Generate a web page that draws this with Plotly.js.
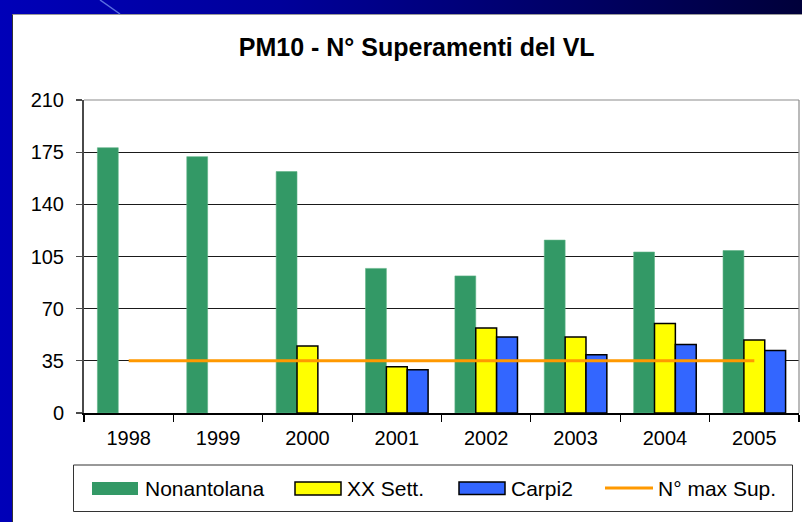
<!DOCTYPE html>
<html>
<head>
<meta charset="utf-8">
<script src="https://cdn.plot.ly/plotly-3.0.1.min.js"></script>
<style>
  html, body { margin: 0; padding: 0; }
  #wrap { position: relative; width: 802px; height: 522px; overflow: hidden;
          background: linear-gradient(to right, #0000b8 0%, #00009a 35%, #000060 75%, #00003a 100%); }
  #panel { position: absolute; left: 12px; top: 14px; width: 790px; height: 508px;
           background: #ffffff; border-left: 1px solid #333; border-top: 1px solid #999; box-sizing: border-box; }
  #chart { position: absolute; left: 0; top: 0; width: 802px; height: 522px; }
</style>
</head>
<body>
<div id="wrap">
  <div id="panel"></div>
  <div id="chart"></div>
</div>
<script>
// ---- data ----
const years = ['1998', '1999', '2000', '2001', '2002', '2003', '2004', '2005'];
const nonantolana = [178, 172, 162, 97, 92, 116, 108, 109];
const xxSett = [null, null, 45, 31, 57, 51, 60, 49];
const carpi2 = [null, null, null, 29, 51, 39, 46, 42];
const maxSup = [35, 35, 35, 35, 35, 35, 35, 35];
const seriesNames = ['Nonantolana', 'XX Sett.', 'Carpi2', 'N° max Sup.'];
const chartTitle = 'PM10 - N° Superamenti del VL';

// ---- layout geometry (pixels) ----
const W = 802, H = 522;
const L = 84, R = 3, T = 100, B = 109;
const PW = W - L - R, PH = H - T - B;
const px = v => (v - L) / PW;
const py = v => (T + PH - v) / PH;

const FONT = 'Liberation Sans, Arial, Helvetica, sans-serif';
const green = '#339966', yellow = '#ffff00', blue = '#3366ff', orange = '#ff9900';

const traces = [
  { type: 'bar', name: seriesNames[0], x: years, y: nonantolana,
    marker: { color: green, line: { color: '#5fb386', width: 0.6 } }, showlegend: false },
  { type: 'bar', name: seriesNames[1], x: years, y: xxSett,
    marker: { color: yellow, line: { color: '#000', width: 1.5 } }, showlegend: false },
  { type: 'bar', name: seriesNames[2], x: years, y: carpi2,
    marker: { color: blue, line: { color: '#000', width: 1.5 } }, showlegend: false },
  { type: 'scatter', mode: 'lines', name: seriesNames[3], x: years, y: maxSup,
    line: { color: orange, width: 3 }, showlegend: false }
];

// legend drawn with shapes + annotations
const legY = 488;
const shapes = [
  // plot area top/right border
  { type: 'line', xref: 'paper', yref: 'paper', x0: 0, x1: 1, y0: 1, y1: 1, line: { color: '#8c8c8c', width: 1.2 }, layer: 'above' },
  { type: 'line', xref: 'paper', yref: 'paper', x0: 1, x1: 1, y0: 0, y1: 1, line: { color: '#8c8c8c', width: 1.2 }, layer: 'above' },
  // decorative diagonal at top
  { type: 'line', xref: 'paper', yref: 'paper', x0: px(100), x1: px(120), y0: py(0), y1: py(14), line: { color: '#5a6fe0', width: 1.5 } },
  // legend box
  { type: 'rect', xref: 'paper', yref: 'paper', x0: px(73.5), x1: px(792.5), y0: py(465), y1: py(511.5),
    line: { color: '#333', width: 1 }, fillcolor: 'rgba(0,0,0,0)' },
  { type: 'rect', xref: 'paper', yref: 'paper', x0: px(92), x1: px(138), y0: py(482), y1: py(495),
    line: { width: 0 }, fillcolor: green },
  { type: 'rect', xref: 'paper', yref: 'paper', x0: px(295), x1: px(341), y0: py(482), y1: py(495),
    line: { color: '#000', width: 1.5 }, fillcolor: yellow },
  { type: 'rect', xref: 'paper', yref: 'paper', x0: px(459), x1: px(505), y0: py(482), y1: py(494.5),
    line: { color: '#000', width: 1.5 }, fillcolor: blue },
  { type: 'line', xref: 'paper', yref: 'paper', x0: px(605), x1: px(653), y0: py(legY), y1: py(legY),
    line: { color: orange, width: 3 } }
];

const legText = [[143, seriesNames[0]], [345, seriesNames[1]], [509, seriesNames[2]], [656, seriesNames[3]]];
const annotations = legText.map(([x, t]) => ({
  xref: 'paper', yref: 'paper', x: px(x), y: py(legY), xanchor: 'left', yanchor: 'middle',
  text: t, showarrow: false, font: { family: FONT, size: 21, color: '#000' }
}));

const layout = {
  width: W, height: H,
  margin: { l: L, r: R, t: T, b: B, pad: 0 },
  paper_bgcolor: 'rgba(0,0,0,0)', plot_bgcolor: 'rgba(0,0,0,0)',
  font: { family: FONT, size: 20, color: '#000' },
  title: { text: '<b>' + chartTitle + '</b>', xref: 'container', yref: 'container',
           x: 416.7 / W, y: 1 - 47.5 / H, xanchor: 'center', yanchor: 'middle',
           font: { family: FONT, size: 25, color: '#000' } },
  barmode: 'group', bargap: 0.3, bargroupgap: 0,
  showlegend: false,
  xaxis: { type: 'category', showgrid: false, zeroline: false,
           showline: true, linecolor: '#000', linewidth: 1.5,
           ticks: 'outside', tickson: 'boundaries', ticklen: 7, tickcolor: '#000', tickwidth: 1.2,
           ticklabelstandoff: 6,
           tickfont: { family: FONT, size: 20, color: '#000' } },
  yaxis: { range: [0, 210], tick0: 0, dtick: 35, showgrid: true, gridcolor: '#1a1a1a', gridwidth: 1,
           zeroline: false, showline: true, linecolor: '#4a4a4a', linewidth: 2,
           ticks: 'outside', ticklen: 6, tickcolor: '#4a4a4a', tickwidth: 1.2,
           ticklabelstandoff: 8,
           tickfont: { family: FONT, size: 20, color: '#000' } },
  shapes: shapes,
  annotations: annotations
};

Plotly.newPlot('chart', traces, layout, { displayModeBar: false, staticPlot: true });
</script>
</body>
</html>
